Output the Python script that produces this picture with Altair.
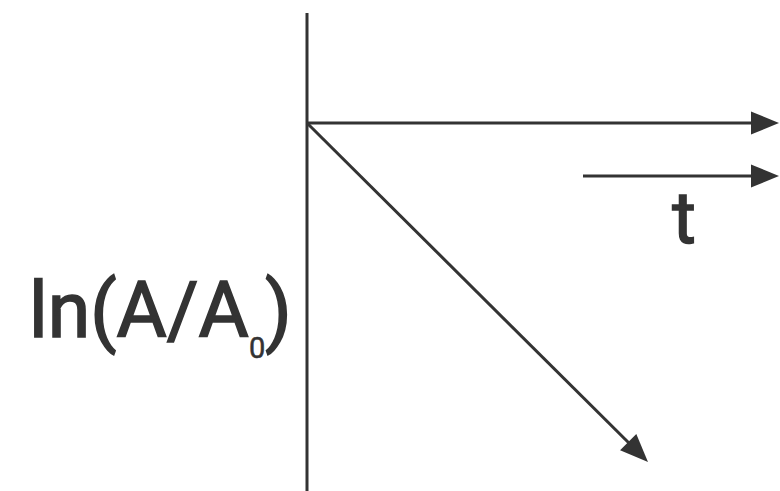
import altair as alt
import pandas as pd

# Line segments of the sketch: y axis, t axis, the shifted t arrow and the decay line
seg_x0 = [0.00, 0.00, 2.76, 0.00]
seg_y0 = [1.10, 0.00, -0.53, 0.00]
seg_x1 = [0.00, 4.60, 4.60, 3.31]
seg_y1 = [-3.68, 0.00, -0.53, -3.29]

# Arrow tips and their directions (degrees, clockwise)
head_x = [4.72, 4.72, 3.41]
head_y = [0.00, -0.53, -3.39]
head_angle = [0, 0, 45]

# Text pieces: axis label split into base, subscript and closing bracket, plus "t"
label_text = ["ln(A/A", "0", ")", "t"]
label_x = [-2.78, -0.58, -0.42, 3.77]
label_y = [-2.14, -2.35, -2.14, -1.20]
label_size = [77, 29, 77, 72]
label_role = ["main", "sub", "main", "axis"]

segs = pd.DataFrame({"x": seg_x0, "y": seg_y0, "x2": seg_x1, "y2": seg_y1})
heads = pd.DataFrame({"x": head_x, "y": head_y, "angle": head_angle})
labels = pd.DataFrame({"text": label_text, "x": label_x, "y": label_y,
                       "size": label_size, "role": label_role})

ink = "#333333"
xs = alt.Scale(domain=[-3.07, 4.73], nice=False, zero=False)
ys = alt.Scale(domain=[-3.68, 1.23], nice=False, zero=False)
noax = None

lines = alt.Chart(segs).mark_rule(color=ink, strokeWidth=3).encode(
    x=alt.X("x:Q", scale=xs, axis=noax),
    y=alt.Y("y:Q", scale=ys, axis=noax),
    x2="x2:Q",
    y2="y2:Q",
)

arrow_path = "M-2,-0.82L0,0L-2,0.82Z"
tips = alt.Chart(heads).mark_point(
    shape=arrow_path, filled=True, color=ink, opacity=1, size=784
).encode(
    x=alt.X("x:Q", scale=xs, axis=noax),
    y=alt.Y("y:Q", scale=ys, axis=noax),
    angle=alt.Angle("angle:Q", scale=None),
)

def text_layer(role, align, outline):
    # regular weight with a thin outline gives a medium-weight glyph
    return alt.Chart(labels).transform_filter(
        alt.datum.role == role
    ).mark_text(
        font="Roboto", fontWeight="normal", color=ink, stroke=ink, strokeWidth=outline,
        align=align, baseline="alphabetic"
    ).encode(
        x=alt.X("x:Q", scale=xs, axis=noax),
        y=alt.Y("y:Q", scale=ys, axis=noax),
        text="text:N",
        size=alt.Size("size:Q", scale=None, legend=None),
    )

chart = alt.layer(
    lines, tips,
    text_layer("main", "left", 1.6),
    text_layer("sub", "left", 0.5),
    text_layer("axis", "center", 1.6),
).properties(
    width=780, height=491, padding=0, autosize=alt.AutoSizeParams(type="none"),
    background="white",
).configure_view(stroke=None)

chart.save("out.html", embed_options={"renderer": "svg", "actions": False})
